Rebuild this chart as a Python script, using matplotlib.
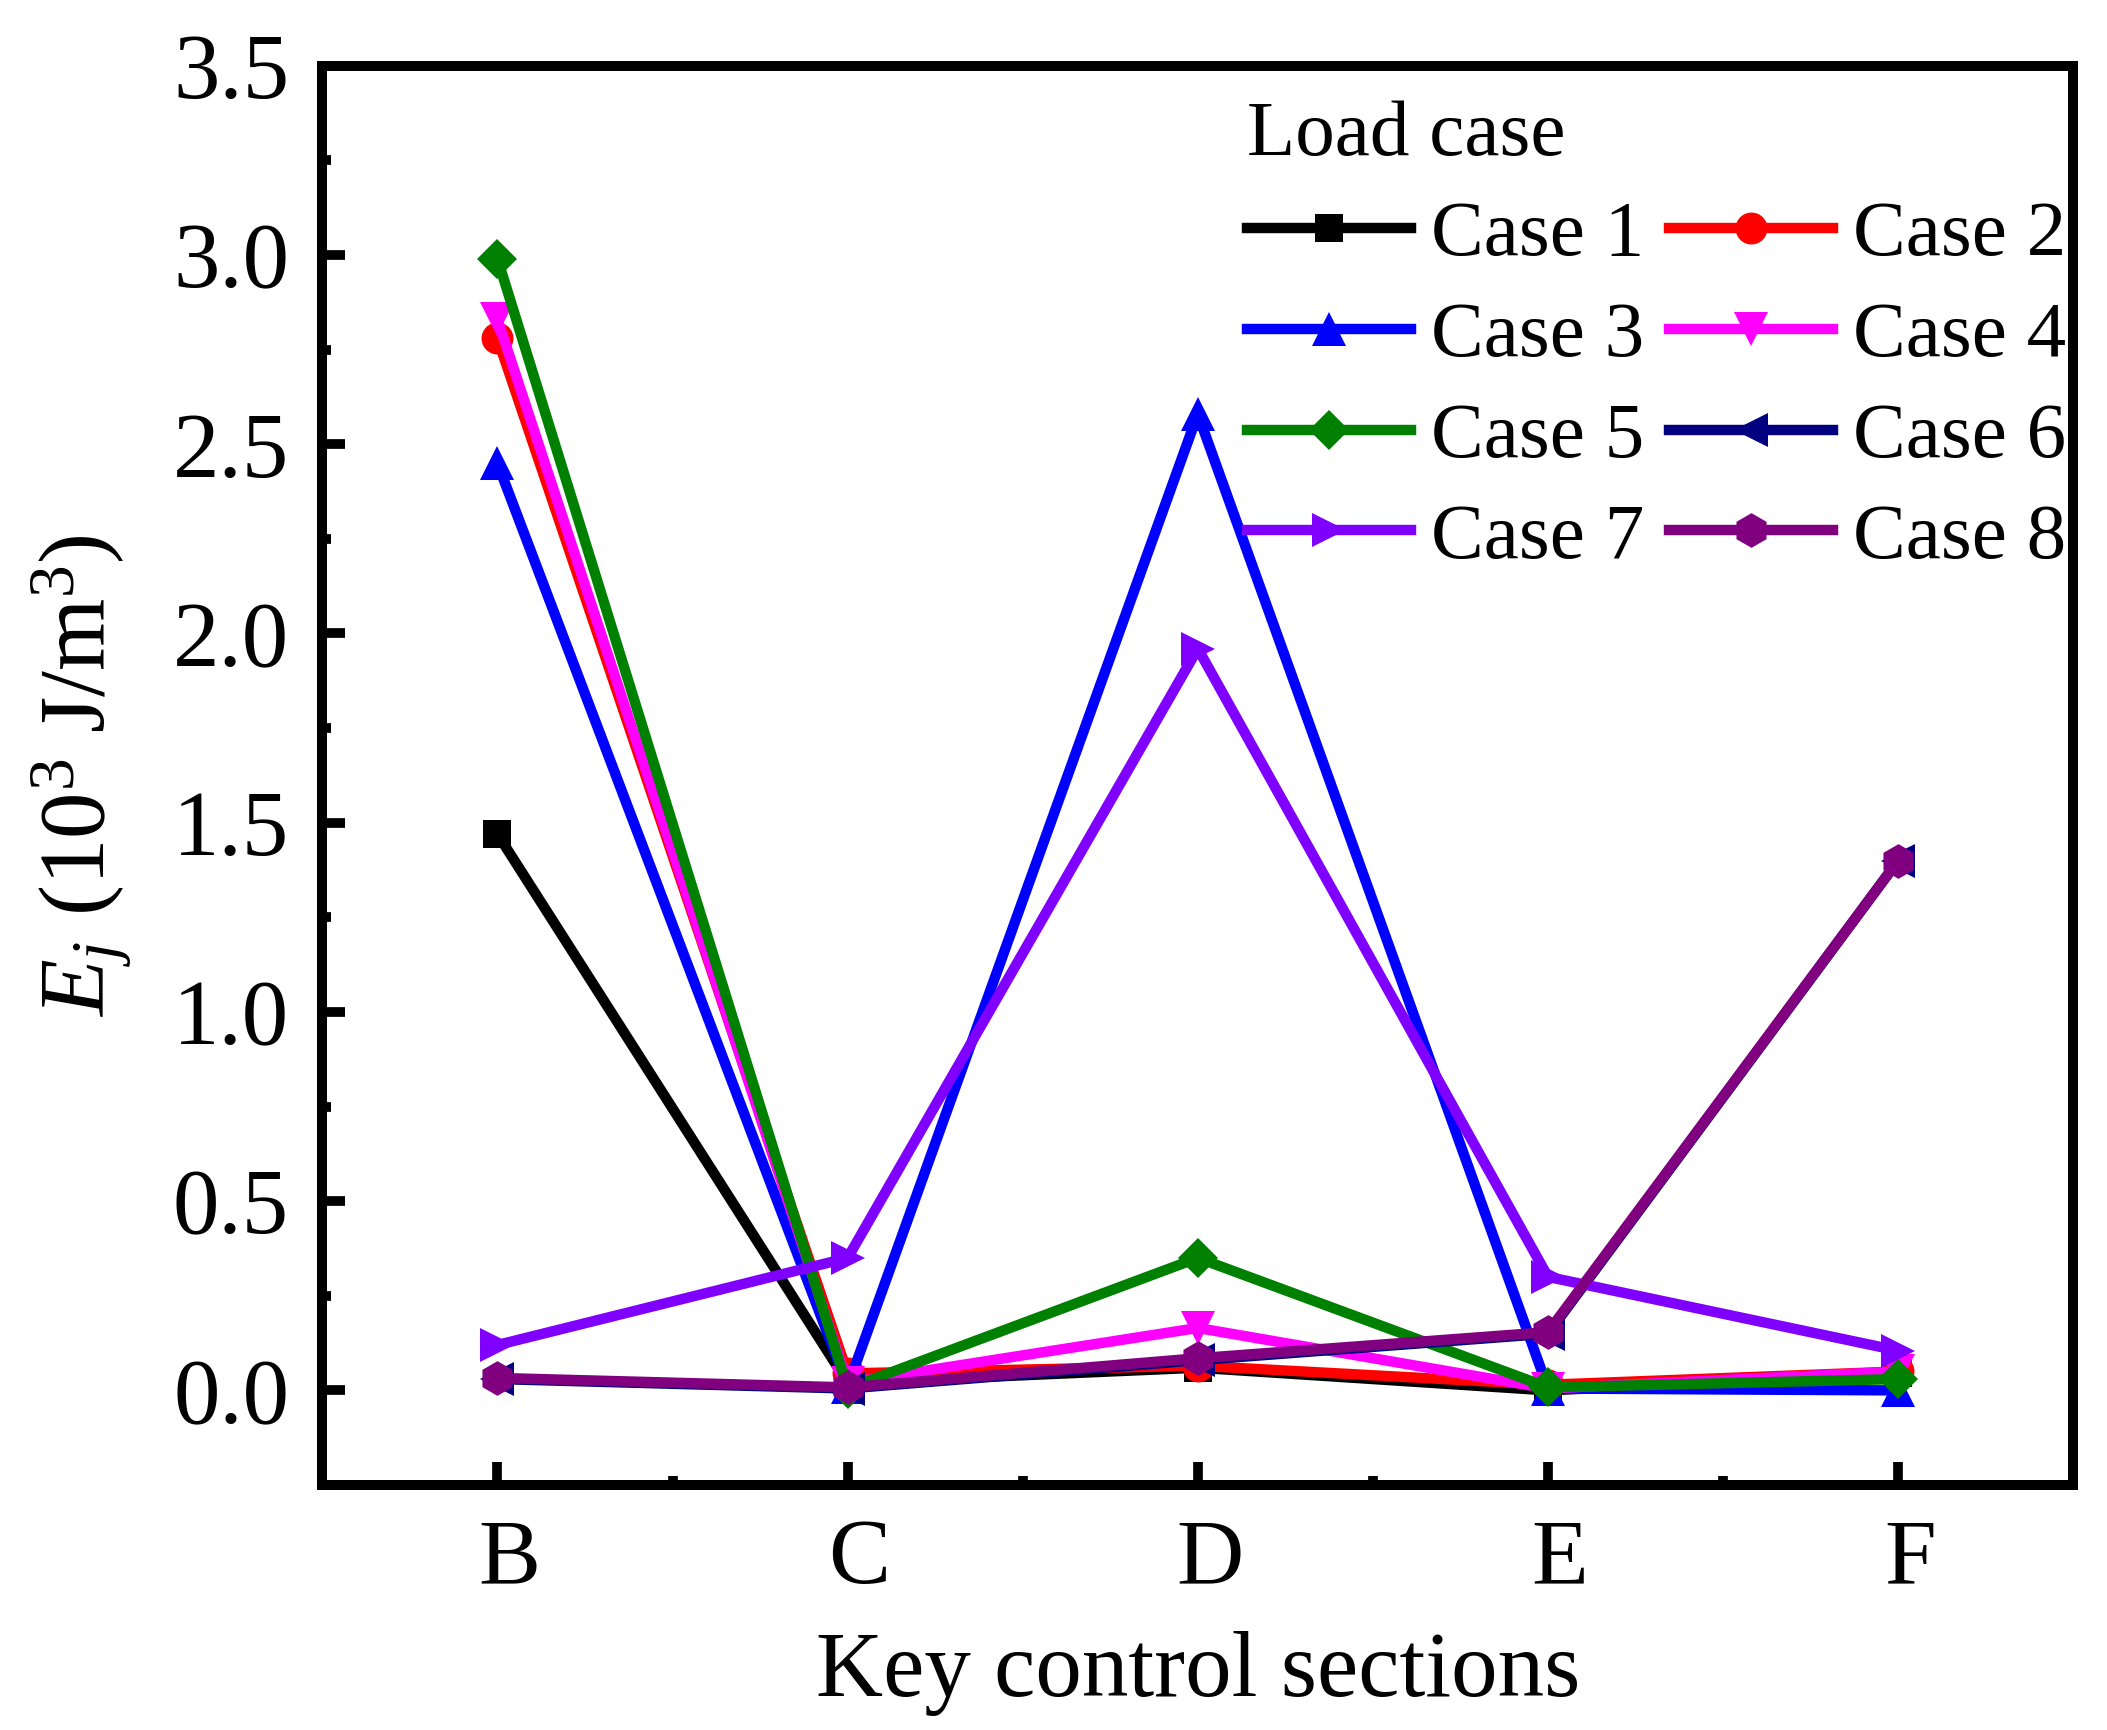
import matplotlib
matplotlib.use("Agg")
import matplotlib.pyplot as plt
import matplotlib.transforms as mtransforms
from matplotlib.ticker import MultipleLocator, FixedLocator

plt.rcParams['font.family'] = ['Liberation Serif', 'DejaVu Serif']
plt.rcParams['mathtext.fontset'] = 'custom'
plt.rcParams['mathtext.rm'] = 'Liberation Serif'
plt.rcParams['mathtext.it'] = 'Liberation Serif:italic'

sections = ['B', 'C', 'D', 'E', 'F']
case1 = [1.47, 0.02, 0.06, 0.00, 0.045]
case2 = [2.78, 0.045, 0.065, 0.015, 0.05]
case3 = [2.45, 0.01, 2.58, 0.005, 0.00]
case4 = [2.83, 0.02, 0.165, 0.005, 0.05]
case5 = [2.99, 0.005, 0.35, 0.008, 0.03]
case6 = [0.03, 0.005, 0.08, 0.15, 1.40]
case7 = [0.12, 0.35, 1.96, 0.30, 0.105]
case8 = [0.033, 0.008, 0.085, 0.154, 1.40]

labels = ['Case 1', 'Case 2', 'Case 3', 'Case 4', 'Case 5', 'Case 6', 'Case 7', 'Case 8']
series = [case1, case2, case3, case4, case5, case6, case7, case8]
colors = ['#000000', '#FF0000', '#0000FF', '#FF00FF', '#008000', '#000080', '#8000FF', '#800080']
markers = ['s', 'o', '^', 'v', 'D', '<', '>', 'h']
msizes = [20, 23, 25, 25, 20, 25, 25, 25]

fig = plt.figure(figsize=(21.07, 17.30), dpi=100)
ax = fig.add_axes([0.153, 0.1416, 0.831, 0.8204])

x = list(range(1, len(sections) + 1))
handles = []
for vals, lab, c, m, ms in zip(series, labels, colors, markers, msizes):
    h, = ax.plot(x, vals, color=c, marker=m, markersize=ms, linewidth=7.5,
                 markeredgewidth=0, label=lab)
    handles.append(h)

ax.set_xlim(0.5, 5.5)
ax.set_ylim(-0.25, 3.5)
ax.xaxis.set_major_locator(FixedLocator(x))
ax.set_xticklabels(sections)
ax.xaxis.set_minor_locator(FixedLocator([1.5, 2.5, 3.5, 4.5]))
ax.yaxis.set_major_locator(MultipleLocator(0.5))
ax.yaxis.set_minor_locator(MultipleLocator(0.25))
ax.yaxis.set_major_formatter(matplotlib.ticker.FormatStrFormatter('%.1f'))

for sp in ax.spines.values():
    sp.set_linewidth(7.2)
ax.tick_params(axis='both', which='major', direction='in', length=16.5, width=7,
               labelsize=67, pad=24)
ax.tick_params(axis='both', which='minor', direction='in', length=6.5, width=7)
ax.tick_params(top=False, right=False, which='both')

offset = mtransforms.ScaledTranslation(12 / 100, 0, fig.dpi_scale_trans)
for lbl in ax.get_xticklabels():
    lbl.set_transform(lbl.get_transform() + offset)

ax.set_xlabel('Key control sections', fontsize=67, labelpad=20)
ax.set_ylabel(r'$E_j$ (10$^3$ J/m$^3$)', fontsize=67, labelpad=28)

# row-major legend order (Case 1 | Case 2 on first row)
order = [0, 2, 4, 6, 1, 3, 5, 7]
leg = ax.legend(handles=[handles[i] for i in order], ncol=2, loc='upper left',
                bbox_to_anchor=(1247 / 2107, 1 - 100 / 1730),
                bbox_transform=fig.transFigure, frameon=False,
                fontsize=57, title='Load case', title_fontsize=57,
                alignment='left', handlelength=2.07, handletextpad=0.25,
                columnspacing=0.32, labelspacing=0.36, borderpad=0,
                borderaxespad=0, markerscale=1.0)

fig.savefig('out.png', dpi=100)
